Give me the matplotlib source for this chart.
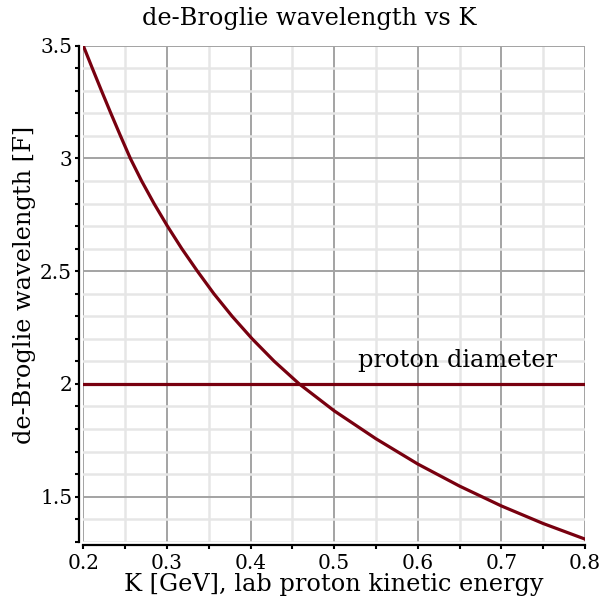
import matplotlib
matplotlib.use("Agg")
import matplotlib.pyplot as plt
from matplotlib.ticker import MultipleLocator

# curve (K in GeV, wavelength in F)
K = [0.2000, 0.2108, 0.2218, 0.2330, 0.2445, 0.2563, 0.2698, 0.2846, 0.3006,
     0.3178, 0.3365, 0.3562, 0.3780, 0.4020, 0.4285, 0.4583,
     0.5, 0.55, 0.6, 0.65, 0.7, 0.75, 0.8]
wavelength = [3.5, 3.4, 3.3, 3.2, 3.1, 3.0, 2.9, 2.8, 2.7,
              2.6, 2.5, 2.4, 2.3, 2.2, 2.1, 2.0,
              1.881, 1.757, 1.645, 1.547, 1.459, 1.381, 1.312]
diam_K = [0.2, 0.8]
diam_val = [2.0, 2.0]
xticks = [0.2, 0.3, 0.4, 0.5, 0.6, 0.7, 0.8]
xticklabels = ["0.2", "0.3", "0.4", "0.5", "0.6", "0.7", "0.8"]
yticks = [1.5, 2.0, 2.5, 3.0, 3.5]
yticklabels = ["1.5", "2", "2.5", "3", "3.5"]

plt.rcParams['font.family'] = ['DejaVu Serif']
color = '#78000f'
big = 17.3

fig = plt.figure(figsize=(6.04, 6.08), dpi=100)
ax = fig.add_axes([0.1379, 0.1089, 0.8306, 0.8159])

ax.set_xlim(0.2, 0.8)
ax.set_ylim(1.3, 3.5)

ax.plot(K, wavelength, color=color, lw=2.3, solid_joinstyle='round', zorder=3)
ax.plot(diam_K, diam_val, color=color, lw=2.3, zorder=3)
ax.text(0.647, 2.105, "proton diameter", fontsize=big, ha='center', va='center', zorder=4)

ax.set_xticks(xticks)
ax.set_xticklabels(xticklabels)
ax.set_yticks(yticks)
ax.set_yticklabels(yticklabels)
ax.xaxis.set_minor_locator(MultipleLocator(0.05))
ax.yaxis.set_minor_locator(MultipleLocator(0.1))

ax.grid(which='major', color='#a3a3a3', lw=1.4, zorder=1)
ax.grid(which='minor', color='#e6e6e6', lw=1.8, zorder=0)
ax.set_axisbelow(True)
for gl in ax.get_xgridlines() + ax.get_ygridlines():
    gl.set_clip_on(False)

for s in ['top', 'right']:
    ax.spines[s].set_visible(False)
ax.spines['left'].set_position(('outward', 3))
ax.spines['bottom'].set_position(('outward', 2.5))
ax.spines['left'].set_linewidth(1.6)
ax.spines['bottom'].set_linewidth(1.6)

ax.tick_params(which='both', direction='out', width=1.5, length=3, labelsize=14.5, color='black')
ax.tick_params(axis='y', pad=2)
ax.tick_params(axis='x', pad=3)

fig.text(309 / 604, 1 - 18 / 608, "de-Broglie wavelength vs K", fontsize=big,
         ha='center', va='center')
ax.set_xlabel("K [GeV], lab proton kinetic energy", fontsize=big, labelpad=0)
ax.set_ylabel("de-Broglie wavelength [F]", fontsize=big, labelpad=3)
ax.yaxis.label.set_y(0.518)

fig.savefig("out.png", dpi=100)
